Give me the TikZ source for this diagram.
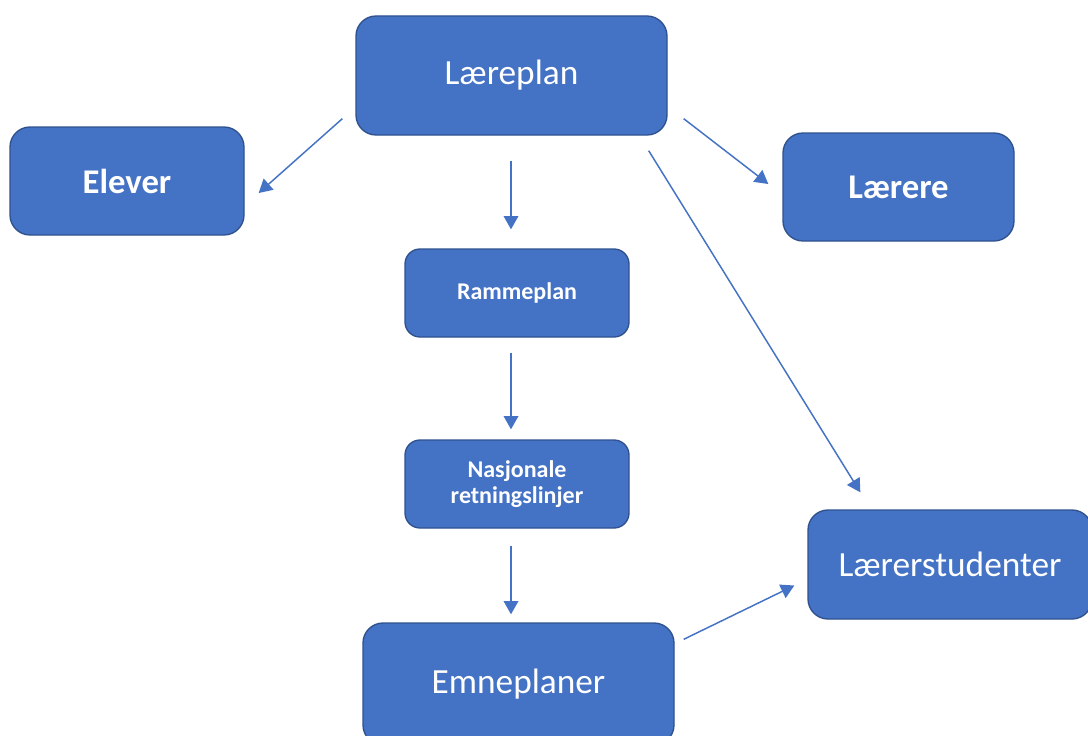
\documentclass[tikz,border=0pt]{standalone}
\usepackage{fontspec}
\setmainfont{Carlito}
\usetikzlibrary{calc,arrows.meta}
\definecolor{boxblue}{HTML}{4472C4}
\definecolor{boxedge}{HTML}{2F528F}
\tikzset{
  box/.style={rectangle, rounded corners=20*0.75pt, fill=boxblue, draw=boxedge, line width=1pt,
    text=white, align=center, inner sep=0pt},
  bigbox/.style={box, font=\fontsize{26.5}{30}\selectfont},
  smallbox/.style={box, rounded corners=15*0.75pt, font=\fontsize{18}{22}\selectfont\bfseries},
  arr/.style={draw=boxblue, line width=1.1pt, -{Triangle[length=10pt,width=11pt]}}
}
\begin{document}
\begin{tikzpicture}[x=0.75pt,y=-0.75pt]
\clip (0,0) rectangle (1088,735);
\fill[white] (0,0) rectangle (1088,735);
\node[bigbox, minimum width=311*0.75pt, minimum height=119*0.75pt] (lp) at (511.5,75.5) {Læreplan};
\node[bigbox, font=\fontsize{26}{30}\selectfont\bfseries, minimum width=234*0.75pt, minimum height=108*0.75pt] (el) at (127,181) {Elever};
\node[bigbox, font=\fontsize{26}{30}\selectfont\bfseries, minimum width=231*0.75pt, minimum height=108*0.75pt] (lr) at (898.5,187) {Lærere};
\node[smallbox, minimum width=224*0.75pt, minimum height=88*0.75pt] (rp) at (517,293) {Rammeplan};
\node[smallbox, minimum width=224*0.75pt, minimum height=88*0.75pt] (nj) at (517,484) {Nasjonale\\[-2pt]retningslinjer};
\node[bigbox, minimum width=311*0.75pt, minimum height=122*0.75pt] (em) at (518.5,684) {Emneplaner};
\node[bigbox, minimum width=284*0.75pt, minimum height=109*0.75pt] (ls) at (950,564.5) {Lærerstudenter};

\draw[arr] ($(lp.south west)+(-13,-17)$) -- ($(el.east)+(14,12)$);
\draw[arr] ($(lp.south)+(-0.5,25)$) -- ($(rp.north)+(-6,-19)$);
\draw[arr] ($(lp.south east)+(16,-17)$) -- ($(lr.west)+(-14,-3)$);
\draw[arr] ($(lp.south east)+(-19,15)$) -- ($(ls.north west)+(53,-17)$);
\draw[arr] ($(rp.south)+(-6,15)$) -- ($(nj.north)+(-6,-10)$);
\draw[arr] ($(nj.south)+(-6,17)$) -- ($(em.north)+(-7.5,-8)$);
\draw[arr] ($(em.north east)+(9,17)$) -- ($(ls.west)+(-13,21)$);
\end{tikzpicture}
\end{document}
